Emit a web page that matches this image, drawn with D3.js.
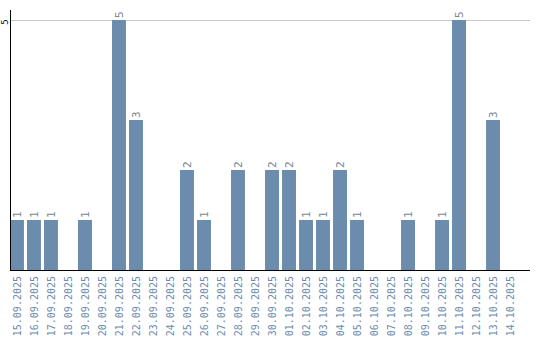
<!DOCTYPE html>
<html>
<head>
<meta charset="utf-8">
<script src="https://cdn.jsdelivr.net/npm/d3@7"></script>
<style>
  body { margin: 0; background: #fff; }
  svg { display: block; }
</style>
</head>
<body>
<div id="chart"></div>
<script>
'use strict'
var dates = [
  '15.09.2025', '16.09.2025', '17.09.2025', '18.09.2025', '19.09.2025',
  '20.09.2025', '21.09.2025', '22.09.2025', '23.09.2025', '24.09.2025',
  '25.09.2025', '26.09.2025', '27.09.2025', '28.09.2025', '29.09.2025',
  '30.09.2025', '01.10.2025', '02.10.2025', '03.10.2025', '04.10.2025',
  '05.10.2025', '06.10.2025', '07.10.2025', '08.10.2025', '09.10.2025',
  '10.10.2025', '11.10.2025', '12.10.2025', '13.10.2025', '14.10.2025'
]
var counts = [1, 1, 1, 0, 1, 0, 5, 3, 0, 0, 2, 1, 0, 2, 0, 2, 2, 1, 1, 2, 1, 0, 0, 1, 0, 1, 5, 0, 3, 0]
var yTicks = [5]

var W = 540, H = 340
var barColor = '#6b8cad'
var font = 'DejaVu Sans Mono, monospace'

var svg = d3.select('#chart').append('svg')
  .attr('width', W)
  .attr('height', H)

var x = d3.scaleBand()
  .domain(dates)
  .range([10, 517])
  .paddingInner(0.18)
  .paddingOuter(0)

var y = d3.scaleLinear()
  .domain([0, 5])
  .range([270, 20])

// grid line
svg.selectAll('.grid').data(yTicks).enter().append('line')
  .attr('x1', 10).attr('x2', 530)
  .attr('y1', d => y(d) + 0.5).attr('y2', d => y(d) + 0.5)
  .attr('stroke', '#c8c8c8')
  .attr('stroke-width', 1)

// bars
var data = dates.map((d, i) => ({date: d, v: counts[i]}))
svg.selectAll('.bar').data(data.filter(d => d.v > 0)).enter().append('rect')
  .attr('x', d => x(d.date))
  .attr('y', d => y(d.v))
  .attr('width', x.bandwidth())
  .attr('height', d => y(0) - y(d.v))
  .attr('fill', barColor)

// value labels
svg.selectAll('.val').data(data.filter(d => d.v > 0)).enter().append('text')
  .attr('transform', d => `translate(${x(d.date) + x.bandwidth() / 2 + 4},${y(d.v) - 2}) rotate(-90)`)
  .attr('font-family', font)
  .attr('font-size', 11)
  .attr('fill', '#7a8794')
  .text(d => d.v)

// axes lines
svg.append('line')
  .attr('x1', 10.5).attr('x2', 10.5).attr('y1', 10).attr('y2', 270)
  .attr('stroke', '#000')
svg.append('line')
  .attr('x1', 10).attr('x2', 530).attr('y1', 270.5).attr('y2', 270.5)
  .attr('stroke', '#000')

// y tick labels
svg.selectAll('.ytick').data(yTicks).enter().append('text')
  .attr('transform', d => `translate(8,${y(d) + 2}) rotate(-90)`)
  .attr('text-anchor', 'middle')
  .attr('font-family', font)
  .attr('font-size', 9)
  .attr('fill', '#000')
  .text(d => d)

// x labels
svg.selectAll('.xlab').data(dates).enter().append('text')
  .attr('transform', d => `translate(${x(d) + x.bandwidth() / 2 + 4},276) rotate(-90)`)
  .attr('text-anchor', 'end')
  .attr('font-family', font)
  .attr('font-size', 10)
  .attr('fill', barColor)
  .text(d => d)
</script>
</body>
</html>
